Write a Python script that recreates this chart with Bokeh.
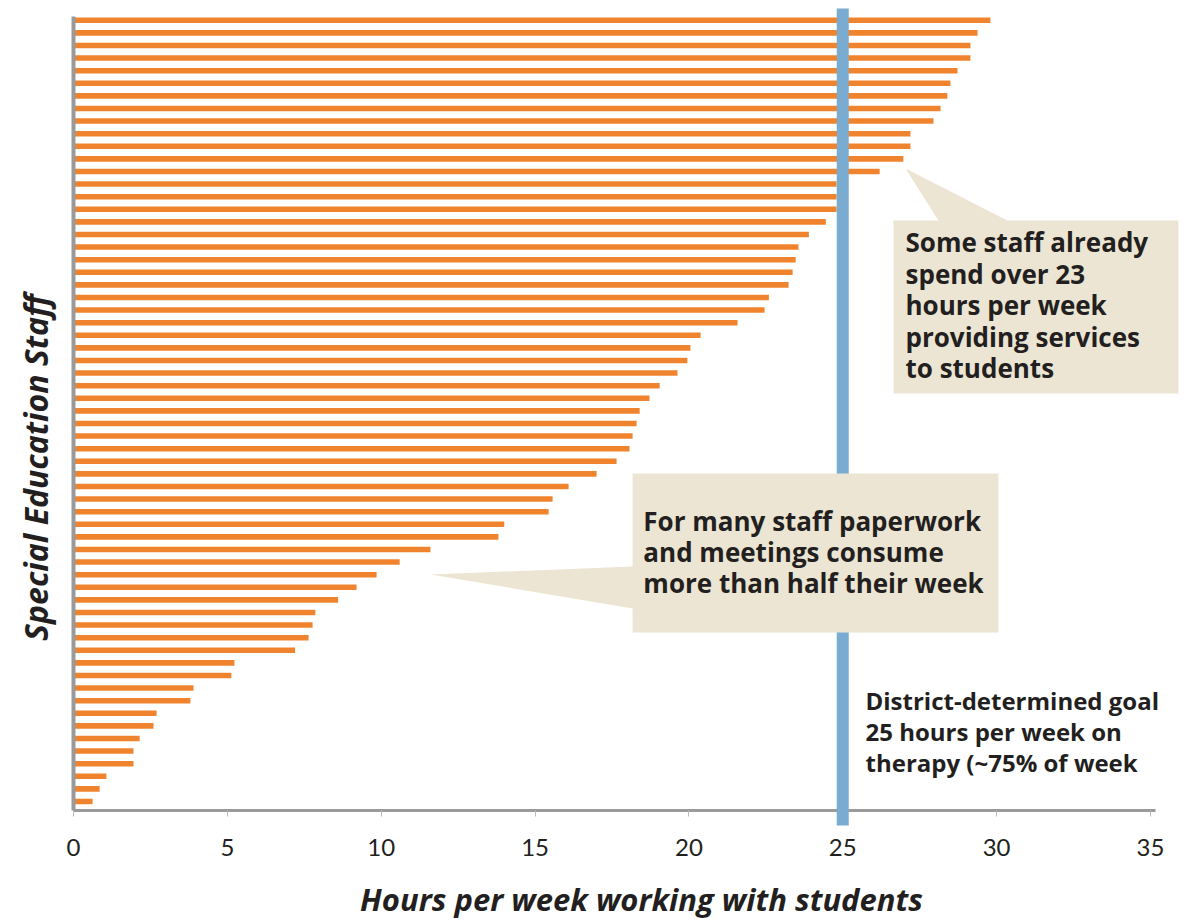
from bokeh.plotting import figure
from bokeh.models import Range1d, FixedTicker, Label, PolyAnnotation, ColumnDataSource
from bokeh.embed import file_html
from bokeh.resources import INLINE
import math

# Hours per week working with students, one value per staff member (top to bottom)
hours = [29.8, 29.38, 29.15, 29.15, 28.73, 28.5, 28.4, 28.18, 27.95, 27.2, 27.2, 26.97, 26.2,
         24.8, 24.8, 24.8, 24.45, 23.9, 23.56, 23.47, 23.37, 23.24, 22.6, 22.46, 21.58, 20.38,
         20.05, 19.95, 19.63, 19.05, 18.72, 18.4, 18.3, 18.17, 18.07, 17.65, 17.0, 16.09, 15.57,
         15.44, 14.0, 13.81, 11.6, 10.6, 9.85, 9.2, 8.6, 7.86, 7.77, 7.64, 7.2, 5.23, 5.13, 3.9,
         3.8, 2.7, 2.6, 2.15, 1.95, 1.95, 1.07, 0.85, 0.62]
staff = [len(hours) - 1 - i for i in range(len(hours))]
x_ticks = [0, 5, 10, 15, 20, 25, 30, 35]
goal_hours = 25

x_label = "Hours per week working with students"
y_label = "Special Education Staff"
note_top = ["Some staff already", "spend over 23", "hours per week",
            "providing services", "to students"]
note_mid = ["For many staff paperwork", "and meetings consume",
            "more than half their week"]
note_goal = ["District-determined goal", "25 hours per week on",
             "therapy (~75% of week"]

ORANGE = "#F0842E"
BLUE = "#7AACD2"
BEIGE = "#ECE5D3"
INK = "#231F20"
GREY = "#9A9A9A"
FONT = "Open Sans"

# layout (data units): where the axes sit inside the drawing area
Y_AXIS_AT = -0.71
Y_TOP = 62.3
X_END = 35.16

p = figure(frame_width=1186, frame_height=923,
           x_range=Range1d(-2.3725, 36.172), y_range=Range1d(-9.683, 63.571),
           output_backend="svg", toolbar_location=None,
           min_border_left=0, min_border_top=0, min_border_right=0,
           min_border_bottom=0)
p.outline_line_color = None
p.xgrid.visible = False
p.ygrid.visible = False

src = ColumnDataSource(dict(staff=staff, hours=hours))
p.hbar(y="staff", right="hours", left=0, height=0.44, source=src,
       fill_color=ORANGE, line_color=None)

# x axis, drawn where the bars start
xa = p.xaxis[0]
xa.fixed_location = Y_AXIS_AT
xa.bounds = (0, X_END)
xa.ticker = FixedTicker(ticks=x_ticks)
xa.minor_tick_line_color = None
xa.axis_line_color = GREY
xa.axis_line_width = 3
xa.major_tick_line_color = "#BBBBBB"
xa.major_tick_out = 6
xa.major_tick_in = 0
xa.major_label_standoff = 23
xa.major_label_text_font = "Lato"
xa.major_label_text_font_size = "24px"
xa.major_label_text_color = INK

# y axis (line only) at zero hours
ya = p.yaxis[0]
ya.fixed_location = 0
ya.bounds = (Y_AXIS_AT, Y_TOP)
ya.ticker = FixedTicker(ticks=[])
ya.minor_tick_line_color = None
ya.major_tick_line_color = None
ya.major_tick_out = 0
ya.axis_line_color = GREY
ya.axis_line_width = 4

# axis titles
p.add_layout(Label(x=18.46, y=-7.75, text=x_label, text_font=FONT,
                   text_font_style="bold italic", text_font_size="31px", text_color=INK,
                   text_align="center", text_baseline="middle"))
p.add_layout(Label(x=-1.235, y=26.5, text=y_label, text_font=FONT, angle=math.pi / 2,
                   text_font_style="bold italic", text_font_size="32px", text_color=INK,
                   text_align="center", text_baseline="middle"))

# goal line
p.add_layout(PolyAnnotation(xs=[goal_hours - 0.195, goal_hours + 0.195, goal_hours + 0.195, goal_hours - 0.195],
                            ys=[62.94, 62.94, -1.9, -1.9],
                            fill_color=BLUE, fill_alpha=1.0, line_color=None))

# callout boxes
p.add_layout(PolyAnnotation(xs=[26.65, 28.11, 27.04, 30.35, 35.91, 35.91, 26.65],
                            ys=[46.11, 46.11, 50.24, 46.11, 46.11, 32.38, 32.38],
                            fill_color=BEIGE, fill_alpha=1.0, line_color=None))
p.add_layout(PolyAnnotation(xs=[18.17, 30.06, 30.06, 18.17, 18.17, 11.6, 18.17],
                            ys=[26.03, 26.03, 13.41, 13.41, 15.32, 18.02, 18.65],
                            fill_color=BEIGE, fill_alpha=1.0, line_color=None))

def add_lines(lines, x, ys, size):
    for t, y in zip(lines, ys):
        p.add_layout(Label(x=x, y=y, text=t, text_font=FONT, text_font_style="bold",
                           text_font_size=size, text_color=INK,
                           text_align="left", text_baseline="middle"))

add_lines(note_top, 27.04, [44.37, 41.9, 39.37, 36.83, 34.37], "26px")
add_lines(note_mid, 18.52, [22.3, 19.84, 17.38], "26px")
add_lines(note_goal, 25.74, [8.02, 5.56, 3.10], "24px")

open("out.html", "w").write(file_html(p, INLINE))
